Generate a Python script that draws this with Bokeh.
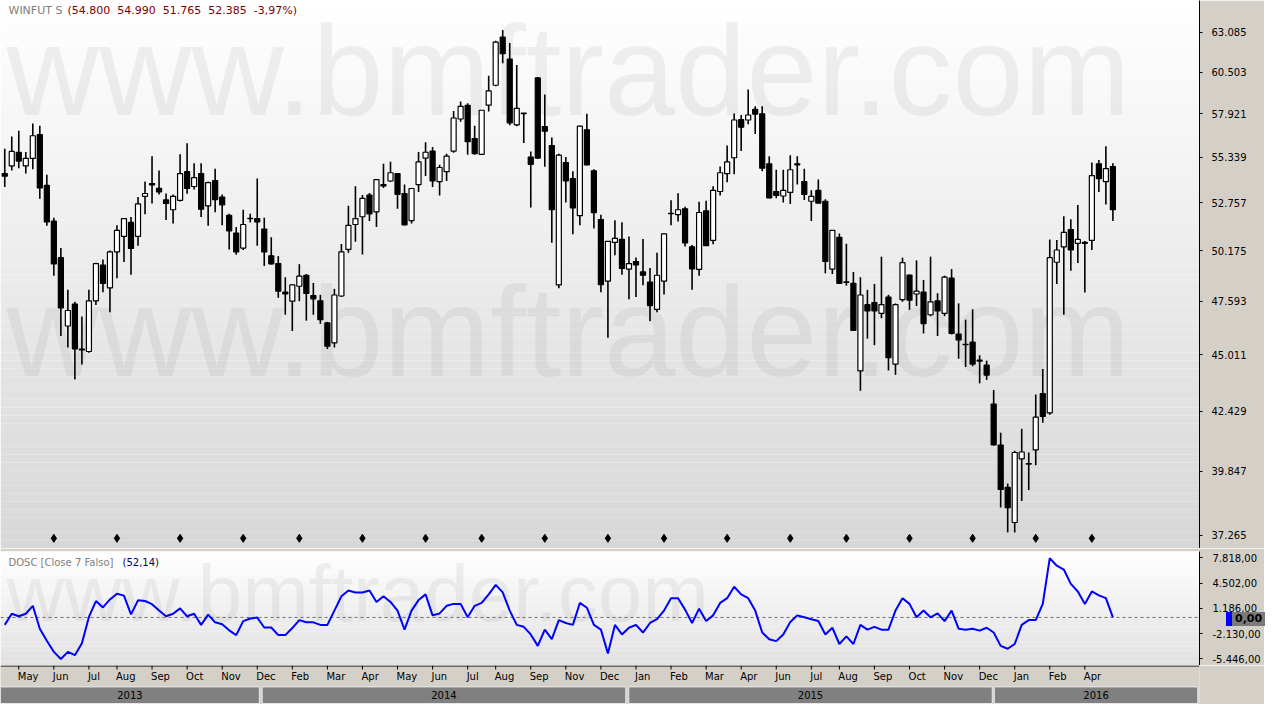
import math
from bokeh.plotting import figure
from bokeh.models import ColumnDataSource, FixedTicker, Label, Range1d, CustomJSTickFormatter, Div
from bokeh.layouts import column
from bokeh.embed import file_html
from bokeh.resources import INLINE
from bokeh.core.properties import value

# ---------------- data (weekly WINFUT, prices in thousands of points) ----------------
opens = [54.40, 54.84, 55.63, 54.84, 55.27, 56.66, 53.73, 51.76, 49.82, 46.38,
         47.46, 45.23, 45.16, 47.62, 49.43, 48.27, 50.12, 50.94, 51.69, 50.94,
         53.12, 53.84, 53.57, 52.92, 52.38, 52.90, 54.51, 53.67, 54.40, 52.59,
         54.01, 53.08, 52.07, 51.12, 50.32, 51.89, 51.90, 51.33, 49.92, 49.51,
         48.05, 47.60, 48.35, 48.91, 47.88, 47.62, 46.53, 45.57, 47.86, 50.25,
         51.58, 52.00, 53.19, 52.27, 53.78, 53.98, 54.40, 53.28, 51.79, 53.78,
         55.29, 55.70, 53.95, 54.51, 55.70, 57.60, 58.43, 56.43, 55.51, 58.44,
         59.67, 62.75, 61.32, 57.25, 57.95, 55.35, 60.13, 57.15, 56.02, 48.42,
         55.03, 54.12, 52.06, 56.95, 54.56, 51.85, 48.61, 50.62, 50.78, 49.23,
         49.62, 49.08, 48.56, 47.19, 48.61, 52.17, 52.11, 52.43, 50.39, 49.21,
         52.32, 50.73, 53.39, 54.40, 55.31, 57.56, 57.54, 58.19, 57.91, 54.96,
         53.39, 53.14, 53.34, 54.96, 53.95, 52.85, 53.45, 52.85, 49.23, 50.89,
         48.57, 48.50, 44.25, 47.43, 47.53, 47.00, 47.81, 44.57, 47.68, 48.92,
         47.96, 48.05, 46.93, 47.62, 47.00, 48.76, 45.99, 45.50, 45.60, 44.75,
         44.52, 42.74, 40.95, 39.17, 37.76, 40.36, 40.16, 40.74, 43.21, 42.35,
         49.58, 50.38, 51.31, 50.57, 50.62, 50.73, 54.96, 53.95, 54.800]
highs = [55.83, 56.56, 56.90, 55.64, 57.33, 57.19, 54.34, 51.95, 50.32, 48.17,
         47.57, 46.85, 48.17, 49.56, 49.73, 50.19, 51.54, 51.90, 51.98, 53.08,
         53.95, 55.40, 54.58, 53.28, 53.23, 55.51, 56.15, 54.99, 54.99, 53.95,
         54.68, 53.23, 52.16, 51.45, 52.38, 52.16, 54.12, 51.95, 50.89, 49.90,
         48.81, 48.43, 49.48, 48.97, 48.52, 47.92, 46.58, 48.22, 50.54, 52.60,
         53.69, 53.19, 53.31, 54.06, 54.97, 55.08, 54.43, 53.78, 53.59, 55.64,
         56.21, 55.93, 54.90, 55.55, 58.09, 58.66, 58.56, 57.19, 58.13, 60.27,
         62.51, 63.22, 62.37, 60.95, 57.97, 55.68, 60.19, 59.09, 56.50, 55.55,
         55.36, 54.53, 57.19, 57.91, 54.65, 52.11, 50.69, 51.81, 51.70, 50.94,
         49.83, 50.80, 49.28, 50.08, 51.10, 52.90, 53.30, 52.55, 50.48, 52.82,
         52.87, 53.69, 54.80, 56.02, 57.93, 57.84, 59.40, 58.37, 58.37, 55.40,
         54.62, 54.62, 55.46, 55.40, 54.68, 53.46, 54.06, 52.96, 51.28, 51.10,
         50.55, 49.08, 48.81, 48.17, 48.47, 49.87, 47.92, 47.49, 49.82, 48.94,
         49.68, 48.67, 49.87, 48.00, 48.89, 49.23, 47.49, 46.69, 47.20, 44.98,
         44.73, 43.38, 41.48, 39.33, 40.70, 41.65, 40.63, 43.17, 44.34, 50.78,
         50.75, 52.02, 51.86, 52.64, 50.69, 55.03, 55.18, 55.98, 54.990]
lows = [53.65, 54.58, 54.71, 54.40, 54.65, 52.99, 51.51, 48.89, 45.90, 45.35,
        43.85, 44.55, 45.10, 47.41, 48.05, 47.05, 48.76, 49.59, 48.94, 50.45,
        52.14, 52.73, 53.23, 51.82, 51.63, 52.83, 53.26, 53.50, 51.98, 51.51,
        52.25, 51.54, 50.25, 49.97, 50.22, 51.69, 50.45, 49.39, 49.46, 47.77,
        46.93, 46.14, 47.60, 46.64, 46.93, 46.49, 45.28, 45.35, 47.81, 50.07,
        50.66, 49.98, 51.77, 51.45, 53.59, 53.93, 52.43, 51.54, 51.63, 53.37,
        54.26, 53.65, 53.17, 53.98, 55.60, 57.43, 55.49, 55.49, 55.49, 58.05,
        59.61, 61.06, 57.23, 57.17, 56.17, 52.51, 55.24, 54.79, 50.60, 48.25,
        52.78, 51.05, 51.54, 54.88, 51.37, 48.05, 45.81, 49.95, 48.94, 47.70,
        47.81, 48.40, 46.61, 47.05, 47.94, 51.54, 51.74, 50.41, 48.18, 48.89,
        50.43, 50.52, 53.17, 53.91, 54.37, 55.70, 57.28, 56.70, 54.53, 53.01,
        53.01, 52.78, 52.70, 53.78, 52.92, 51.77, 52.73, 49.01, 48.97, 48.47,
        48.38, 46.15, 43.34, 45.77, 45.46, 46.76, 44.27, 44.07, 47.57, 47.17,
        47.36, 46.02, 46.86, 45.90, 46.86, 45.97, 44.82, 44.43, 44.47, 43.68,
        43.84, 40.93, 38.36, 37.37, 37.37, 38.62, 39.07, 40.09, 41.91, 42.27,
        48.47, 46.93, 49.14, 49.54, 48.03, 50.22, 53.37, 52.67, 51.765]
closes = [54.25, 55.68, 55.12, 55.27, 56.60, 53.59, 51.72, 49.49, 47.27, 47.14,
          45.28, 45.27, 47.62, 49.51, 48.50, 50.12, 51.26, 51.90, 50.30, 52.70,
          53.28, 53.76, 53.37, 52.73, 53.12, 54.40, 53.56, 54.17, 52.41, 53.89,
          52.94, 52.65, 51.24, 50.12, 51.58, 51.91, 51.72, 50.12, 49.50, 48.10,
          47.96, 48.42, 48.87, 47.99, 47.72, 46.69, 45.41, 47.91, 50.12, 51.53,
          51.90, 53.01, 52.16, 54.06, 53.70, 54.45, 53.23, 51.56, 53.56, 55.07,
          55.63, 53.98, 54.75, 55.40, 57.66, 58.37, 56.25, 55.55, 58.13, 59.32,
          62.43, 61.67, 57.37, 58.25, 57.93, 54.93, 55.29, 56.87, 52.38, 55.46,
          53.98, 52.48, 57.17, 54.90, 52.22, 48.43, 50.68, 50.84, 49.26, 49.51,
          49.44, 48.91, 47.38, 48.91, 51.08, 52.19, 52.38, 50.60, 49.24, 52.23,
          50.45, 53.45, 54.45, 55.07, 57.54, 57.11, 57.84, 57.90, 54.71, 53.04,
          53.17, 53.45, 54.62, 54.90, 53.23, 53.12, 52.75, 49.62, 51.26, 48.50,
          48.55, 46.17, 47.91, 47.12, 47.12, 47.43, 44.87, 47.43, 49.56, 47.65,
          48.10, 46.50, 47.57, 47.12, 48.81, 46.02, 45.71, 45.48, 44.57, 44.71,
          44.06, 40.95, 39.09, 38.35, 40.63, 40.65, 40.14, 42.16, 42.19, 49.82,
          50.22, 51.16, 50.22, 50.78, 50.57, 54.28, 54.12, 54.68, 52.385]
dosc = [-976, 488, 150, 488, 1526, -1476, -3065, -4516, -5442, -4516,
        -4941, -3390, 63, 2152, 1314, 2364, 3115, 2865, 400, 2239,
        2152, 1739, 901, 150, 488, 1189, 150, 488, -976, 363,
        -638, -888, -1689, -2314, -475, -138, -13, -1314, -1314, -2314,
        -2314, -1389, -350, -638, -638, -976, -976, 900, 2777, 3528,
        3278, 3278, 3528, 2027, 2777, 2027, 900, -1600, 900, 2277,
        3027, 275, 525, 1526, 1776, 1776, 25, 1526, 1902, 3027,
        4278, 3278, 900, -976, -1226, -2227, -3728, -1600, -2852, -350,
        -726, -976, 1902, 1276, -976, -1600, -4729, -976, -2227, -1351,
        -976, -1977, -726, -225, 900, 2527, 2527, 1026, -726, 1150,
        -475, 275, 1902, 2527, 4028, 3027, 2527, 900, -1977, -2852,
        -3102, -2227, -600, 275, 25, -225, -475, -2227, -1351, -3478,
        -2477, -3478, -976, -1600, -1226, -1600, -1600, 900, 2527, 1776,
        25, 900, 25, 525, -475, 900, -1476, -1600, -1476, -1726,
        -1351, -1977, -3728, -4103, -3478, -976, -350, -350, 1776, 7781,
        6781, 6280, 4403, 3403, 1776, 3403, 2900, 2527, 0]

price_ticks = [37.265, 39.847, 42.429, 45.011, 47.593, 50.175, 52.757, 55.339, 57.921, 60.503, 63.085]
dosc_ticks = [7818, 4502, 1186, -2130, -5446]
month_labels = ["May", "Jun", "Jul", "Aug", "Sep", "Oct", "Nov", "Dec", "Feb", "Mar", "Apr",
                "May", "Jun", "Jul", "Aug", "Sep", "Nov", "Dec", "Jan", "Feb", "Mar", "Apr",
                "Jun", "Jul", "Aug", "Sep", "Oct", "Nov", "Dec", "Jan", "Feb", "Apr"]
month_idx = [2, 7, 12, 16, 21, 26, 31, 36, 41, 46, 51,
             56, 61, 66, 70, 75, 80, 85, 90, 95, 100, 105,
             110, 115, 119, 124, 129, 134, 139, 144, 149, 154]
year_labels = ["2013", "2014", "2015", "2016"]
year_start = [-0.6, 36.7, 88.97, 141.1]
year_end = [36.3, 88.55, 140.8, 170.1]
expiry_idx = [7, 16, 25, 34, 42, 51, 60, 68, 77, 86, 94, 103, 112, 120, 129, 138, 147, 155]
header_symbol = "WINFUT S"
header_values = "(54.800\u00a0 54.990\u00a0 51.765\u00a0 52.385\u00a0 -3,97%)"
osc_name = "DOSC [Close 7 Falso]"
osc_value = "(52,14)"
last_price_label = "52.385"
osc_zero_label = "0,00"
watermark = "www.bmftrader.com"

# ---------------- geometry (content pixels) ----------------
W = 1264
FRAME_W = 1199
RB = W - FRAME_W             # right axis area
PX_PER_BAR = 7.0136
X0 = -4.25 / PX_PER_BAR
X1 = X0 + FRAME_W / PX_PER_BAR
MAIN_H = 548
LOW_TOP = 3
LOW_H = 117
LOW_FRAME = LOW_H - LOW_TOP
STRIP_H = 39
Y_MIN, Y_MAX = 36.746, 65.205
LO_MIN, LO_MAX = -6298.0, 8644.0

AXIS_BG = "#d4d0c8"
FONT = "DejaVu Sans"
WM_FONT = "Liberation Sans"


def xi(px):
    return X0 + px / PX_PER_BAR


def main_y(py):
    a, b = math.log(Y_MAX), math.log(Y_MIN)
    return math.exp(a + (py / MAIN_H) * (b - a))


def low_y(py):
    return LO_MAX + (py / LOW_FRAME) * (LO_MIN - LO_MAX)


def grey(v):
    v = int(round(v))
    return "#%02x%02x%02x" % (v, v, v)


def watermark_row(fig, wx, wy, size):
    fig.text(x=[wx], y=[wy], text=[watermark], text_font=value(WM_FONT),
             text_font_size=value(size), text_color="#7a7a7a", text_alpha=0.10)


xr = Range1d(X0, X1)

# ---------------- main price panel ----------------
p = figure(width=W, height=MAIN_H, x_range=xr, y_range=Range1d(Y_MIN, Y_MAX),
           y_axis_type="log", y_axis_location="right", x_axis_location=None,
           output_backend="svg", toolbar_location=None,
           min_border_left=0, min_border_right=RB, min_border_top=0, min_border_bottom=0)
p.grid.visible = False
p.outline_line_color = None
p.border_fill_color = AXIS_BG
p.background_fill_color = "#ffffff"

nb = 70
bands = dict(left=[X0] * nb, right=[X1] * nb,
             top=[main_y(MAIN_H * k / nb) for k in range(nb)],
             bottom=[main_y(MAIN_H * (k + 1) / nb) for k in range(nb)],
             color=[grey(255 - 40 * (k + 0.5) / nb) for k in range(nb)])
p.quad(left="left", right="right", top="top", bottom="bottom", fill_color="color",
       line_color=None, source=ColumnDataSource(bands))

watermark_row(p, xi(6), main_y(141), "128px")
watermark_row(p, xi(6), main_y(402), "128px")

idx = list(range(len(closes)))
src = ColumnDataSource(dict(
    x=idx, high=highs, low=lows,
    top=[max(o, c) for o, c in zip(opens, closes)],
    bottom=[min(o, c) for o, c in zip(opens, closes)],
    fill=["#ffffff" if c >= o else "#000000" for o, c in zip(opens, closes)],
))
p.segment(x0="x", y0="low", x1="x", y1="high", source=src, line_color="#000000", line_width=1.6)
p.vbar(x="x", width=0.72, top="top", bottom="bottom", source=src,
       fill_color="fill", line_color="#000000", line_width=1.2)

p.scatter(x=expiry_idx, y=[main_y(537.8)] * len(expiry_idx), marker="diamond",
          size=8, color="#000000")

p.yaxis.ticker = FixedTicker(ticks=price_ticks)
p.yaxis.formatter = CustomJSTickFormatter(code="return tick.toFixed(3);")
p.yaxis.minor_tick_line_color = None
p.yaxis.major_tick_out = 3
p.yaxis.major_tick_in = 0
p.yaxis.major_label_standoff = 9
p.yaxis.axis_line_color = "#000000"
p.yaxis.major_tick_line_color = "#000000"
p.yaxis.major_label_text_font = FONT
p.yaxis.major_label_text_font_size = "10px"
p.yaxis.major_label_text_color = "#000000"

p.add_layout(Label(x=X0, y=main_y(3), x_offset=8, text=header_symbol,
                   text_font=FONT, text_font_size="11px", text_color="#808080",
                   text_baseline="top"))
p.add_layout(Label(x=X0, y=main_y(3), x_offset=67, text=header_values,
                   text_font=FONT, text_font_size="11px", text_color="#800000",
                   text_baseline="top"))
p.add_layout(Label(x=X1, y=closes[-1], x_offset=27, text=last_price_label, text_font=FONT,
                   text_font_size="11px", text_font_style="bold", text_color="#ffffff",
                   text_align="center", text_baseline="middle",
                   background_fill_color="#000000", padding=2))

# ---------------- oscillator panel ----------------
q = figure(width=W, height=LOW_H, x_range=xr, y_range=Range1d(LO_MIN, LO_MAX),
           y_axis_location="right", x_axis_location=None,
           output_backend="svg", toolbar_location=None,
           min_border_left=0, min_border_right=RB, min_border_top=LOW_TOP, min_border_bottom=0)
q.grid.visible = False
q.outline_line_color = None
q.border_fill_color = AXIS_BG
q.background_fill_color = "#ffffff"
nb2 = 30
bands2 = dict(left=[X0] * nb2, right=[X1] * nb2,
              top=[low_y(LOW_FRAME * k / nb2) for k in range(nb2)],
              bottom=[low_y(LOW_FRAME * (k + 1) / nb2) for k in range(nb2)],
              color=[grey(255 - 30 * (k + 0.5) / nb2) for k in range(nb2)])
q.quad(left="left", right="right", top="top", bottom="bottom", fill_color="color",
       line_color=None, source=ColumnDataSource(bands2))
watermark_row(q, xi(6), low_y(86), "80px")
q.segment(x0=[X0], y0=[0], x1=[X1], y1=[0], line_color="#707070", line_dash="3 3", line_width=1)
q.line(x=idx, y=dosc, line_color="#0000ff", line_width=2)
q.yaxis.ticker = FixedTicker(ticks=dosc_ticks)
q.yaxis.formatter = CustomJSTickFormatter(
    code="var s = (tick/1000).toFixed(3); return s + ',00';")
q.yaxis.minor_tick_line_color = None
q.yaxis.major_tick_out = 3
q.yaxis.major_tick_in = 0
q.yaxis.major_label_standoff = 10
q.yaxis.axis_line_color = "#000000"
q.yaxis.major_tick_line_color = "#000000"
q.yaxis.major_label_text_font = FONT
q.yaxis.major_label_text_font_size = "10px"
q.yaxis.major_label_text_color = "#000000"
q.add_layout(Label(x=X0, y=low_y(5), x_offset=8, text=osc_name, text_font=FONT,
                   text_font_size="10px", text_color="#808080", text_baseline="top"))
q.add_layout(Label(x=X0, y=low_y(5), x_offset=122, text=osc_value, text_font=FONT,
                   text_font_size="10px", text_color="#000080", text_baseline="top"))

# zero-line value tag in the oscillator's axis area (HTML overlay, 0 px tall)
zero_py = LOW_TOP + (LO_MAX - 0.0) / (LO_MAX - LO_MIN) * LOW_FRAME   # y of 0 inside q
tag_top = int(round(zero_py - 7 - LOW_H))                             # relative to tag row
tag_html = (
    '<div style="position:relative; left:1226px; top:%dpx; width:40px; height:14px; '
    'white-space:nowrap; font-family:\'DejaVu Sans\'; font-size:11px; font-weight:bold; '
    'line-height:14px;">'
    '<span style="display:inline-block; vertical-align:top; background:#0000ff; '
    'width:6px; height:14px;"></span>'
    '<span style="display:inline-block; vertical-align:top; background:#7a7a7a; '
    'color:#000000; padding:0 3px; height:14px;">%s</span>'
    '</div>' % (tag_top, osc_zero_label)
)
tag = Div(text=tag_html, width=W, height=0, margin=(0, 0, 0, 0),
          styles={"overflow": "visible", "z-index": "5", "position": "relative"},
          stylesheets=[":host, div { overflow: visible !important; }"])

# ---------------- date strip ----------------
s = figure(width=W, height=STRIP_H, x_range=xr, y_range=Range1d(0, STRIP_H),
           x_axis_location=None, y_axis_location=None,
           output_backend="svg", toolbar_location=None,
           min_border_left=0, min_border_right=RB, min_border_top=0, min_border_bottom=0)
s.grid.visible = False
s.outline_line_color = None
s.border_fill_color = AXIS_BG
s.background_fill_color = AXIS_BG
s.segment(x0=[X0], y0=[STRIP_H - 0.5], x1=[X1], y1=[STRIP_H - 0.5], line_color="#000000", line_width=1)
s.segment(x0=month_idx, y0=[STRIP_H] * len(month_idx), x1=month_idx,
          y1=[STRIP_H - 4] * len(month_idx), line_color="#000000", line_width=1)
s.text(x=month_idx, y=[28.4] * len(month_idx), text=month_labels,
       text_font=value(FONT), text_font_size=value("10px"), text_color="#000000",
       text_align="left", text_baseline="middle", x_offset=-1)
s.quad(left=year_start, right=year_end, top=[17.6] * 4, bottom=[1] * 4,
       fill_color="#808080", line_color="#e8e8e8", line_width=1)
s.text(x=[(a + b) / 2 for a, b in zip(year_start, year_end)], y=[9.6] * 4, text=year_labels,
       text_font=value(FONT), text_font_size=value("10px"), text_color="#000000",
       text_align="center", text_baseline="middle")

layout = column(p, q, tag, s, spacing=0)
open("out.html", "w").write(file_html(layout, INLINE))
